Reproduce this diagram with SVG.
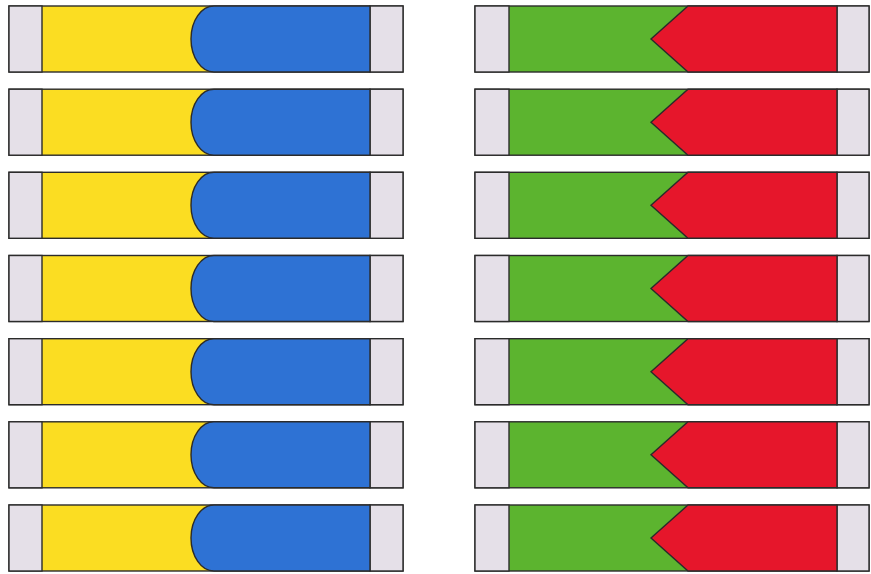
<svg xmlns="http://www.w3.org/2000/svg" xmlns:xlink="http://www.w3.org/1999/xlink" width="871" height="574" viewBox="0 0 871 574">
<style>
.o{stroke:#2b2b2b;stroke-width:1.4;stroke-linejoin:miter}
.gr{fill:#e5e0e8}
.ye{fill:#fbdd22}
.bl{fill:#2e72d4}
.gn{fill:#5cb42f}
.rd{fill:#e6162b}
</style>
<defs>
<g id="leftStrip">
<rect class="o ye" x="9" y="0" width="394" height="66"/>
<rect class="o gr" x="9" y="0" width="33" height="66"/>
<rect class="o gr" x="370" y="0" width="33" height="66"/>
<path class="o bl" d="M214,0 L370,0 L370,66 L214,66 A23 33 0 0 1 214,0 Z"/>
</g>
<g id="rightStrip">
<rect class="o gn" x="475" y="0" width="394" height="66"/>
<rect class="o gr" x="475" y="0" width="34" height="66"/>
<rect class="o gr" x="837" y="0" width="32" height="66"/>
<path class="o rd" d="M688,0 L837,0 L837,66 L688,66 L651,33 Z"/>
</g>
</defs>
<rect width="871" height="574" fill="#ffffff"/>
<g id="L1" transform="translate(0,6)"><use xlink:href="#leftStrip"/></g>
<g id="L2" transform="translate(0,89.2)"><use xlink:href="#leftStrip"/></g>
<g id="L3" transform="translate(0,172.3)"><use xlink:href="#leftStrip"/></g>
<g id="L4" transform="translate(0,255.5)"><use xlink:href="#leftStrip"/></g>
<g id="L5" transform="translate(0,338.7)"><use xlink:href="#leftStrip"/></g>
<g id="L6" transform="translate(0,421.8)"><use xlink:href="#leftStrip"/></g>
<g id="L7" transform="translate(0,505)"><use xlink:href="#leftStrip"/></g>
<g id="R1" transform="translate(0,6)"><use xlink:href="#rightStrip"/></g>
<g id="R2" transform="translate(0,89.2)"><use xlink:href="#rightStrip"/></g>
<g id="R3" transform="translate(0,172.3)"><use xlink:href="#rightStrip"/></g>
<g id="R4" transform="translate(0,255.5)"><use xlink:href="#rightStrip"/></g>
<g id="R5" transform="translate(0,338.7)"><use xlink:href="#rightStrip"/></g>
<g id="R6" transform="translate(0,421.8)"><use xlink:href="#rightStrip"/></g>
<g id="R7" transform="translate(0,505)"><use xlink:href="#rightStrip"/></g>
<g id="connectors"/>
</svg>
